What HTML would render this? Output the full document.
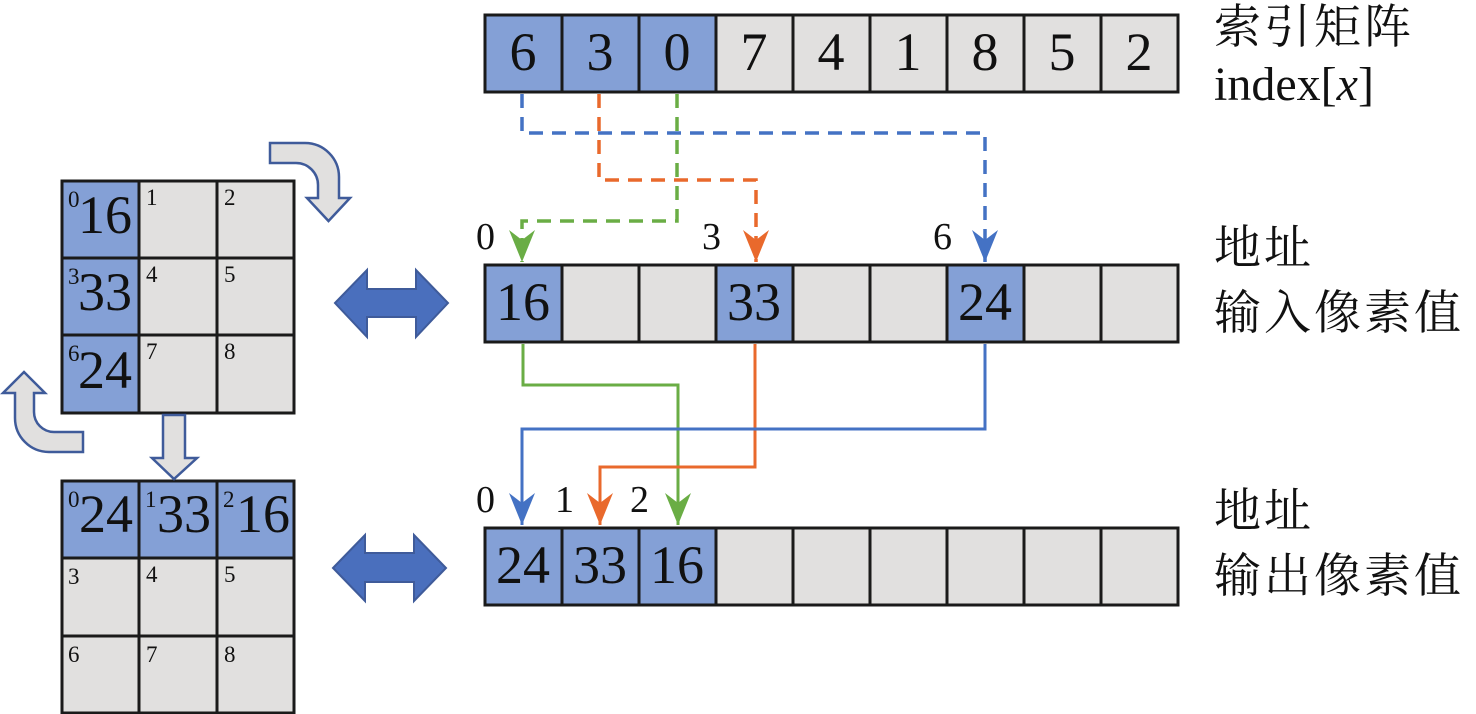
<!DOCTYPE html>
<html><head><meta charset="utf-8"><style>
html,body{margin:0;padding:0;background:#fff;}
svg{display:block;}
</style></head><body>
<svg width="1476" height="714" viewBox="0 0 1476 714" xmlns="http://www.w3.org/2000/svg">
<defs>
<marker id="ab" markerWidth="28" markerHeight="36" refX="14" refY="34" orient="0" markerUnits="userSpaceOnUse"><path d="M14,34 L1,2 L14,12 L27,2 Z" fill="#4472c4"/></marker>
<marker id="ao" markerWidth="28" markerHeight="36" refX="14" refY="34" orient="0" markerUnits="userSpaceOnUse"><path d="M14,34 L1,2 L14,12 L27,2 Z" fill="#e9692c"/></marker>
<marker id="ag" markerWidth="28" markerHeight="36" refX="14" refY="34" orient="0" markerUnits="userSpaceOnUse"><path d="M14,34 L1,2 L14,12 L27,2 Z" fill="#6aad45"/></marker>
</defs>

<g stroke="#1a1a1a" stroke-width="3">
<rect x="485" y="15" width="77" height="77" fill="#84a0d6"/>
<rect x="562" y="15" width="77" height="77" fill="#84a0d6"/>
<rect x="639" y="15" width="77" height="77" fill="#84a0d6"/>
<rect x="716" y="15" width="77" height="77" fill="#e1e0df"/>
<rect x="793" y="15" width="77" height="77" fill="#e1e0df"/>
<rect x="870" y="15" width="77" height="77" fill="#e1e0df"/>
<rect x="947" y="15" width="77" height="77" fill="#e1e0df"/>
<rect x="1024" y="15" width="77" height="77" fill="#e1e0df"/>
<rect x="1101" y="15" width="77" height="77" fill="#e1e0df"/>
</g>
<g font-family="Liberation Serif, Times New Roman, serif" fill="#111" font-size="54" text-anchor="middle">
<text x="523" y="70">6</text><text x="600" y="70">3</text><text x="677" y="70">0</text>
<text x="754" y="70">7</text><text x="831" y="70">4</text><text x="908" y="70">1</text>
<text x="985" y="70">8</text><text x="1062" y="70">5</text><text x="1139" y="70">2</text>
</g>

<g stroke="#1a1a1a" stroke-width="3">
<rect x="485" y="265" width="77" height="77" fill="#84a0d6"/>
<rect x="562" y="265" width="77" height="77" fill="#e1e0df"/>
<rect x="639" y="265" width="77" height="77" fill="#e1e0df"/>
<rect x="716" y="265" width="77" height="77" fill="#84a0d6"/>
<rect x="793" y="265" width="77" height="77" fill="#e1e0df"/>
<rect x="870" y="265" width="77" height="77" fill="#e1e0df"/>
<rect x="947" y="265" width="77" height="77" fill="#84a0d6"/>
<rect x="1024" y="265" width="77" height="77" fill="#e1e0df"/>
<rect x="1101" y="265" width="77" height="77" fill="#e1e0df"/>
</g>
<g font-family="Liberation Serif, Times New Roman, serif" fill="#111" font-size="54" text-anchor="middle">
<text x="523" y="320">16</text><text x="754" y="320">33</text><text x="985" y="320">24</text>
</g>

<g stroke="#1a1a1a" stroke-width="3">
<rect x="485" y="528" width="77" height="77" fill="#84a0d6"/>
<rect x="562" y="528" width="77" height="77" fill="#84a0d6"/>
<rect x="639" y="528" width="77" height="77" fill="#84a0d6"/>
<rect x="716" y="528" width="77" height="77" fill="#e1e0df"/>
<rect x="793" y="528" width="77" height="77" fill="#e1e0df"/>
<rect x="870" y="528" width="77" height="77" fill="#e1e0df"/>
<rect x="947" y="528" width="77" height="77" fill="#e1e0df"/>
<rect x="1024" y="528" width="77" height="77" fill="#e1e0df"/>
<rect x="1101" y="528" width="77" height="77" fill="#e1e0df"/>
</g>
<g font-family="Liberation Serif, Times New Roman, serif" fill="#111" font-size="54" text-anchor="middle">
<text x="523" y="583">24</text><text x="600" y="583">33</text><text x="677" y="583">16</text>
</g>

<g fill="none" stroke-width="3.5" stroke-dasharray="14,9">
<path d="M522,94 V133 H985 V262" stroke="#4472c4" marker-end="url(#ab)"/>
<path d="M599,94 V180 H756 V262" stroke="#e9692c" marker-end="url(#ao)"/>
<path d="M677,94 V221 H522 V262" stroke="#6aad45" marker-end="url(#ag)"/>
</g>
<g font-family="Liberation Serif, Times New Roman, serif" fill="#111" font-size="38">
<text x="476" y="249">0</text><text x="702" y="249">3</text><text x="933" y="249">6</text>
</g>

<g fill="none" stroke-width="3">
<path d="M523,344 V385 H678 V525" stroke="#6aad45" marker-end="url(#ag)"/>
<path d="M755,344 V467 H600 V525" stroke="#e9692c" marker-end="url(#ao)"/>
<path d="M985,344 V429 H522 V525" stroke="#4472c4" marker-end="url(#ab)"/>
</g>
<g font-family="Liberation Serif, Times New Roman, serif" fill="#111" font-size="38">
<text x="476" y="512">0</text><text x="555" y="512">1</text><text x="630" y="512">2</text>
</g>

<g font-family="Liberation Serif, Noto Serif CJK SC, serif" fill="#111" font-size="47" letter-spacing="3">
<text x="1214" y="43">索引矩阵</text>
<text x="1214" y="264">地址</text>
<text x="1214" y="329">输入像素值</text>
<text x="1214" y="527">地址</text>
<text x="1214" y="592">输出像素值</text>
</g>
<text font-family="Liberation Serif, Times New Roman, serif" fill="#111" x="1214" y="100" font-size="48">index[<tspan font-style="italic">x</tspan>]</text>

<g stroke="#1a1a1a" stroke-width="3">
<rect x="62" y="181" width="77" height="77" fill="#84a0d6"/>
<rect x="139" y="181" width="78" height="77" fill="#e1e0df"/>
<rect x="217" y="181" width="77" height="77" fill="#e1e0df"/>
<rect x="62" y="258" width="77" height="77" fill="#84a0d6"/>
<rect x="139" y="258" width="78" height="77" fill="#e1e0df"/>
<rect x="217" y="258" width="77" height="77" fill="#e1e0df"/>
<rect x="62" y="335" width="77" height="78" fill="#84a0d6"/>
<rect x="139" y="335" width="78" height="78" fill="#e1e0df"/>
<rect x="217" y="335" width="77" height="78" fill="#e1e0df"/>
</g>
<g font-family="Liberation Serif, Times New Roman, serif" fill="#111" font-size="23">
<text x="68" y="207">0</text><text x="146" y="205">1</text><text x="224" y="205">2</text>
<text x="68" y="284">3</text><text x="146" y="282">4</text><text x="224" y="282">5</text>
<text x="68" y="361">6</text><text x="146" y="359">7</text><text x="224" y="359">8</text>
</g>
<g font-family="Liberation Serif, Times New Roman, serif" fill="#111" font-size="54" text-anchor="end">
<text x="132" y="233">16</text><text x="132" y="310">33</text><text x="132" y="388">24</text>
</g>

<g stroke="#1a1a1a" stroke-width="3">
<rect x="62" y="481" width="77" height="77" fill="#84a0d6"/>
<rect x="139" y="481" width="78" height="77" fill="#84a0d6"/>
<rect x="217" y="481" width="77" height="77" fill="#84a0d6"/>
<rect x="62" y="558" width="77" height="78" fill="#e1e0df"/>
<rect x="139" y="558" width="78" height="78" fill="#e1e0df"/>
<rect x="217" y="558" width="77" height="78" fill="#e1e0df"/>
<rect x="62" y="636" width="77" height="77" fill="#e1e0df"/>
<rect x="139" y="636" width="78" height="77" fill="#e1e0df"/>
<rect x="217" y="636" width="77" height="77" fill="#e1e0df"/>
</g>
<g font-family="Liberation Serif, Times New Roman, serif" fill="#111" font-size="23">
<text x="68" y="507">0</text><text x="145" y="507">1</text><text x="223" y="507">2</text>
<text x="68" y="584">3</text><text x="146" y="582">4</text><text x="224" y="582">5</text>
<text x="68" y="662">6</text><text x="146" y="662">7</text><text x="224" y="662">8</text>
</g>
<g font-family="Liberation Serif, Times New Roman, serif" fill="#111" font-size="54">
<text x="79" y="532">24</text><text x="157" y="532">33</text><text x="236" y="532">16</text>
</g>

<g fill="#e1e0df" stroke="#3f5b9a" stroke-width="2.5" stroke-linejoin="miter">
<path d="M270,143 H305 A34,34 0 0 1 339,177 V198 H350 L328.5,221 L307,198 H318 V185 A22,22 0 0 0 296,163 H270 Z"/>
<path d="M83,452 H49 A34,34 0 0 1 15,418 V393 H3 L24,372 L45,393 H34 V412 A20,20 0 0 0 54,432 H83 Z"/>
<path d="M163,415 H185 V458 H197 L174,479 L152,458 H163 Z"/>
</g>
<g fill="#4a6fbd" stroke="#3f5b9a" stroke-width="2">
<path d="M335,303 L367,270 V289 H416 V270 L448,303 L416,337 V317 H367 V337 Z"/>
<path d="M333,568 L365,535 V553 H414 V535 L446,568 L414,601 V582 H365 V601 Z"/>
</g>
</svg>
</body></html>
